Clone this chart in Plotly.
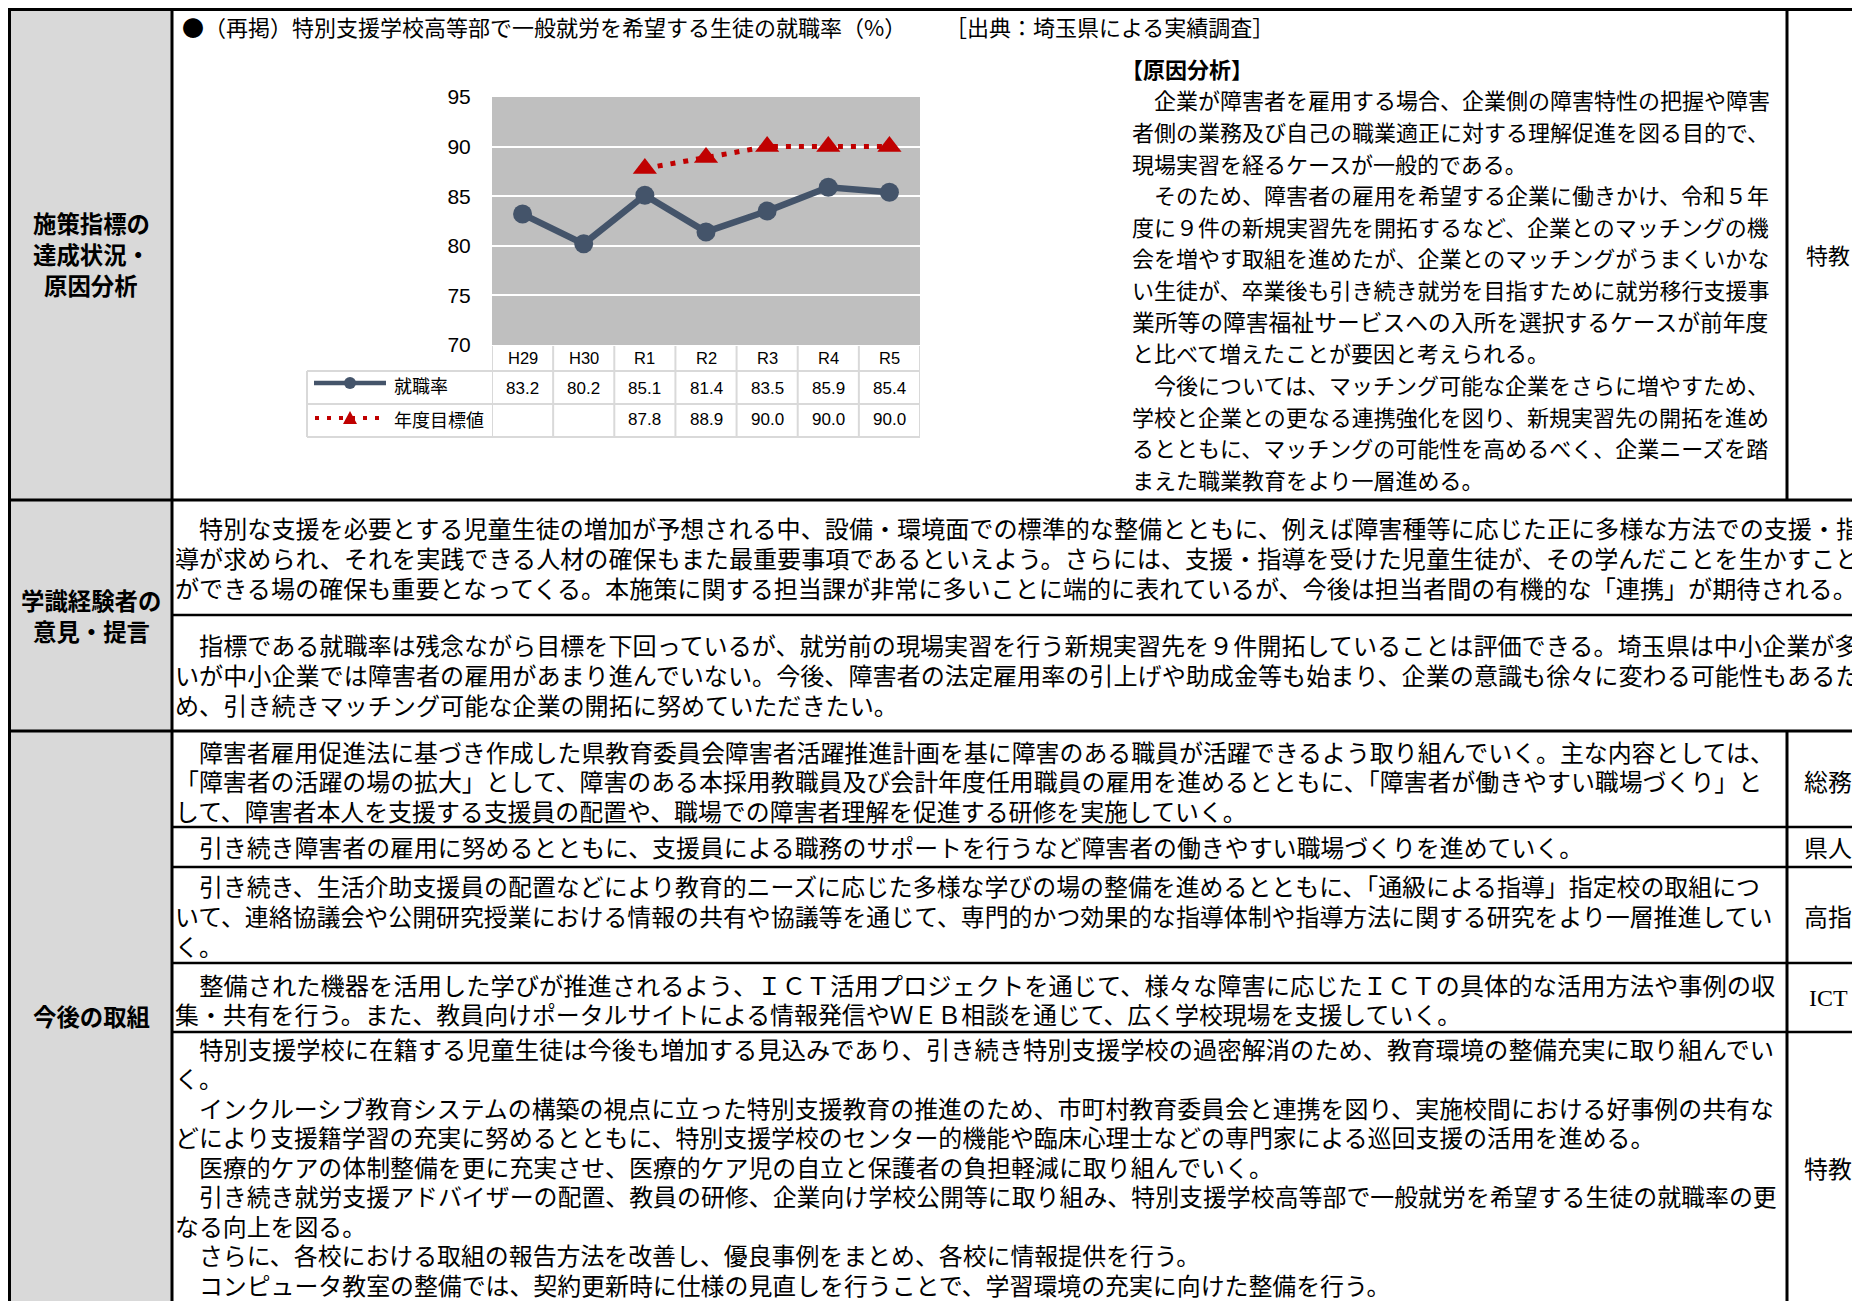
import plotly.graph_objects as go

W, H = 1852, 1301
CJK = "Noto Sans CJK JP"
LAT = "Liberation Sans"

# ---------------- data ----------------
categories = ["H29", "H30", "R1", "R2", "R3", "R4", "R5"]
employment_rate = [83.2, 80.2, 85.1, 81.4, 83.5, 85.9, 85.4]
target_rate = [None, None, 87.8, 88.9, 90.0, 90.0, 90.0]
y_ticks = [70, 75, 80, 85, 90, 95]
series_names = ["就職率", "年度目標値"]

chart_title = "●（再掲）特別支援学校高等部で一般就労を希望する生徒の就職率（%）"
source_text = "［出典：埼玉県による実績調査］"

row_labels_1 = ["施策指標の", "達成状況・", "原因分析"]
row_labels_2 = ["学識経験者の", "意見・提言"]
row_labels_3 = ["今後の取組"]

analysis_heading = "【原因分析】"
analysis_paragraphs = [
    ["　企業が障害者を雇用する場合、企業側の障害特性の把握や障害",
     "者側の業務及び自己の職業適正に対する理解促進を図る目的で、",
     "現場実習を経るケースが一般的である。"],
    ["　そのため、障害者の雇用を希望する企業に働きかけ、令和５年",
     "度に９件の新規実習先を開拓するなど、企業とのマッチングの機",
     "会を増やす取組を進めたが、企業とのマッチングがうまくいかな",
     "い生徒が、卒業後も引き続き就労を目指すために就労移行支援事",
     "業所等の障害福祉サービスへの入所を選択するケースが前年度",
     "と比べて増えたことが要因と考えられる。"],
    ["　今後については、マッチング可能な企業をさらに増やすため、",
     "学校と企業との更なる連携強化を図り、新規実習先の開拓を進め",
     "るとともに、マッチングの可能性を高めるべく、企業ニーズを踏",
     "まえた職業教育をより一層進める。"],
]
analysis_dept = "特教"

expert_opinion_1 = [
    "　特別な支援を必要とする児童生徒の増加が予想される中、設備・環境面での標準的な整備とともに、例えば障害種等に応じた正に多様な方法での支援・指",
    "導が求められ、それを実践できる人材の確保もまた最重要事項であるといえよう。さらには、支援・指導を受けた児童生徒が、その学んだことを生かすこと",
    "ができる場の確保も重要となってくる。本施策に関する担当課が非常に多いことに端的に表れているが、今後は担当者間の有機的な「連携」が期待される。",
]
expert_opinion_2 = [
    "　指標である就職率は残念ながら目標を下回っているが、就労前の現場実習を行う新規実習先を９件開拓していることは評価できる。埼玉県は中小企業が多",
    "いが中小企業では障害者の雇用があまり進んでいない。今後、障害者の法定雇用率の引上げや助成金等も始まり、企業の意識も徐々に変わる可能性もあるた",
    "め、引き続きマッチング可能な企業の開拓に努めていただきたい。",
]

future_items = [
    [["　障害者雇用促進法に基づき作成した県教育委員会障害者活躍推進計画を基に障害のある職員が活躍できるよう取り組んでいく。主な内容としては、",
      "「障害者の活躍の場の拡大」として、障害のある本採用教職員及び会計年度任用職員の雇用を進めるとともに、「障害者が働きやすい職場づくり」と",
      "して、障害者本人を支援する支援員の配置や、職場での障害者理解を促進する研修を実施していく。"]],
    [["　引き続き障害者の雇用に努めるとともに、支援員による職務のサポートを行うなど障害者の働きやすい職場づくりを進めていく。"]],
    [["　引き続き、生活介助支援員の配置などにより教育的ニーズに応じた多様な学びの場の整備を進めるとともに、「通級による指導」指定校の取組につ",
      "いて、連絡協議会や公開研究授業における情報の共有や協議等を通じて、専門的かつ効果的な指導体制や指導方法に関する研究をより一層推進してい",
      "く。"]],
    [["　整備された機器を活用した学びが推進されるよう、ＩＣＴ活用プロジェクトを通じて、様々な障害に応じたＩＣＴの具体的な活用方法や事例の収",
      "集・共有を行う。また、教員向けポータルサイトによる情報発信やＷＥＢ相談を通じて、広く学校現場を支援していく。"]],
    [["　特別支援学校に在籍する児童生徒は今後も増加する見込みであり、引き続き特別支援学校の過密解消のため、教育環境の整備充実に取り組んでい",
      "く。"],
     ["　インクルーシブ教育システムの構築の視点に立った特別支援教育の推進のため、市町村教育委員会と連携を図り、実施校間における好事例の共有な",
      "どにより支援籍学習の充実に努めるとともに、特別支援学校のセンター的機能や臨床心理士などの専門家による巡回支援の活用を進める。"],
     ["　医療的ケアの体制整備を更に充実させ、医療的ケア児の自立と保護者の負担軽減に取り組んでいく。"],
     ["　引き続き就労支援アドバイザーの配置、教員の研修、企業向け学校公開等に取り組み、特別支援学校高等部で一般就労を希望する生徒の就職率の更",
      "なる向上を図る。"],
     ["　さらに、各校における取組の報告方法を改善し、優良事例をまとめ、各校に情報提供を行う。"],
     ["　コンピュータ教室の整備では、契約更新時に仕様の見直しを行うことで、学習環境の充実に向けた整備を行う。"]],
]
future_depts = ["総務", "県人", "高指", "ICT", "特教"]

# ---------------- layout helpers (pixel -> paper) ----------------
def px(x):
    return x / W


def py(y):
    return 1 - y / H


annotations = []
shapes = []


def text(x, y, s, size, anchor="left", family=CJK, color="#000000", xref="paper",
         box_h=None, box_w=None):
    a = dict(x=px(x) if xref == "paper" else x, y=py(y), xref=xref, yref="paper",
             text=s, showarrow=False, xanchor=anchor, yanchor="middle",
             font=dict(family=family, size=size, color=color), borderpad=0)
    if box_h:
        a["height"] = box_h
    if box_w:
        a["width"] = box_w
        a["align"] = "left"
    annotations.append(a)


def hline(y, x0, x1, w=3.0, color="#000000", dash=None):
    d = dict(type="line", xref="paper", yref="paper", x0=px(x0), x1=px(x1),
             y0=py(y), y1=py(y), line=dict(color=color, width=w))
    if dash:
        d["line"]["dash"] = dash
    shapes.append(d)


def vline(x, y0, y1, w=3.0, color="#000000", xref="paper"):
    shapes.append(dict(type="line", xref=xref, yref="paper",
                       x0=px(x) if xref == "paper" else x, x1=px(x) if xref == "paper" else x,
                       y0=py(y0), y1=py(y1), line=dict(color=color, width=w)))


def block(paragraphs, x0, y0, spacing, base, width=None, clip_right=None):
    y = y0
    for para in paragraphs:
        for i, line in enumerate(para):
            size = base
            if width and i < len(para) - 1:
                size = min(base * 1.05, max(base, width / len(line)))
            bw = None
            if clip_right and x0 + len(line) * size > clip_right:
                bw = clip_right - x0
            text(x0, y, line, size, box_h=spacing - 1, box_w=bw)
            y += spacing
    return y


# ---------------- page frame ----------------
LEFT, COLR, RIGHTC = 9.5, 172, 1787
TOP, R1B, R2M, R2B = 9.5, 500, 615, 731
R3 = [827, 867, 963, 1032]
DEPT_X = 1828

shapes.append(dict(type="rect", xref="paper", yref="paper", x0=px(LEFT), x1=px(COLR),
                   y0=py(H + 5), y1=py(TOP), fillcolor="#d9d9d9", line=dict(width=0), layer="below"))

hline(TOP, LEFT - 1.5, W + 5)
vline(LEFT, TOP, H + 5)
vline(COLR, TOP, H + 5)
hline(R1B, LEFT, W + 5)
vline(RIGHTC, TOP, R1B)
hline(R2M, COLR, W + 5, w=2.6)
hline(R2B, LEFT, W + 5)
vline(RIGHTC, R2B, H + 5)
for yb in R3:
    hline(yb, COLR, W + 5, w=2.6)

# left labels
for i, s in enumerate(row_labels_1):
    text(91, 223 + 31 * i, "<b>" + s + "</b>", 23.4, anchor="center", box_h=30)
for i, s in enumerate(row_labels_2):
    text(91, 600 + 31 * i, "<b>" + s + "</b>", 23.4, anchor="center", box_h=30)
text(91, 1016, "<b>" + row_labels_3[0] + "</b>", 23.4, anchor="center")

# chart heading + source
text(181, 26, chart_title, 22)
text(944, 26, source_text, 22)

# analysis block
text(1120, 68, "<b>" + analysis_heading + "</b>", 22, box_h=30)
block(analysis_paragraphs, 1131, 100, 31.6, 22, width=638)
text(DEPT_X, 254, analysis_dept, 22, anchor="center")

# expert opinions (cell continues past the page edge)
block([expert_opinion_1], 174, 527, 30, 24.1, clip_right=W - 1)
block([expert_opinion_2], 174, 644, 30, 24.1, clip_right=W - 1)

# future measures
starts = [751, 847, 886, 984, 1048]
dept_y = [780, 847, 915, 998, 1167]
for paras, y0, dep, dy in zip(future_items, starts, future_depts, dept_y):
    block(paras, 174, y0, 29.5, 23.9, width=1603)
    fam = "Liberation Serif" if dep.isascii() else CJK
    text(DEPT_X, dy, dep, 23.9, anchor="center", family=fam)

# ---------------- chart ----------------
DARK = "#44546a"
RED = "#c00000"
PLOT_L, PLOT_R, PLOT_T, PLOT_B = 492, 920, 97, 345

fig = go.Figure()
fig.add_trace(go.Scatter(
    x=categories, y=employment_rate, name=series_names[0], mode="lines+markers",
    line=dict(color=DARK, width=6.5), marker=dict(symbol="circle", size=19, color=DARK),
    cliponaxis=False, hoverinfo="skip"))
fig.add_trace(go.Scatter(
    x=categories, y=target_rate, name=series_names[1], mode="lines+markers",
    line=dict(color=RED, width=5, dash="5px,8px"),
    marker=dict(symbol="triangle-up", size=21, color=RED),
    cliponaxis=False, hoverinfo="skip", connectgaps=False))

# data table under the chart
TBL_L = 307
HDR_Y, ROW1_Y, ROW2_Y = 358, 388, 420
for i in range(len(categories) + 1):
    vline(i - 0.5, PLOT_B + 1, 437, w=2, color="#d9d9d9", xref="x")
vline(TBL_L, 371, 437, w=2, color="#d9d9d9")
for yb in [371, 404, 437]:
    hline(yb, TBL_L, PLOT_R, w=2, color="#d9d9d9")

for c in categories:
    text(c, HDR_Y, c, 16.5, anchor="center", family=LAT, xref="x")
for c, v in zip(categories, employment_rate):
    text(c, ROW1_Y, f"{v:.1f}", 17, anchor="center", family=LAT, xref="x")
for c, v in zip(categories, target_rate):
    if v is not None:
        text(c, ROW2_Y, f"{v:.1f}", 17, anchor="center", family=LAT, xref="x")

# legend keys in the table
hline(383, 314, 386, w=4.5, color=DARK)
shapes.append(dict(type="circle", xref="paper", yref="paper",
                   x0=px(350 - 6), x1=px(350 + 6), y0=py(383 + 6), y1=py(383 - 6),
                   fillcolor=DARK, line=dict(width=0)))
hline(418, 315, 384, w=4, color=RED, dash="4px,8px")
tri = "M {},{} L {},{} L {},{} Z".format(px(343), py(424), px(357), py(424), px(350), py(411))
shapes.append(dict(type="path", xref="paper", yref="paper", path=tri,
                   fillcolor=RED, line=dict(width=0)))
text(393, 385, series_names[0], 18)
text(393, 419, series_names[1], 18)

fig.update_layout(
    width=W, height=H, autosize=False,
    margin=dict(l=0, r=0, t=0, b=0, pad=0),
    paper_bgcolor="white", plot_bgcolor="#bfbfbf",
    showlegend=False,
    xaxis=dict(domain=[px(PLOT_L), px(PLOT_R)], type="category", range=[-0.5, 6.5],
               showgrid=False, zeroline=False, showline=False, showticklabels=False, ticks="",
               automargin=False),
    yaxis=dict(domain=[py(PLOT_B), py(PLOT_T)], range=[70, 95], tickvals=y_ticks,
               showgrid=True, gridcolor="white", gridwidth=2, zeroline=False, showline=False,
               ticks="outside", ticklen=16, tickcolor="rgba(0,0,0,0)", automargin=False,
               tickfont=dict(family=LAT, size=21, color="#000000")),
    annotations=annotations, shapes=shapes,
)

fig.write_html("out.html")
